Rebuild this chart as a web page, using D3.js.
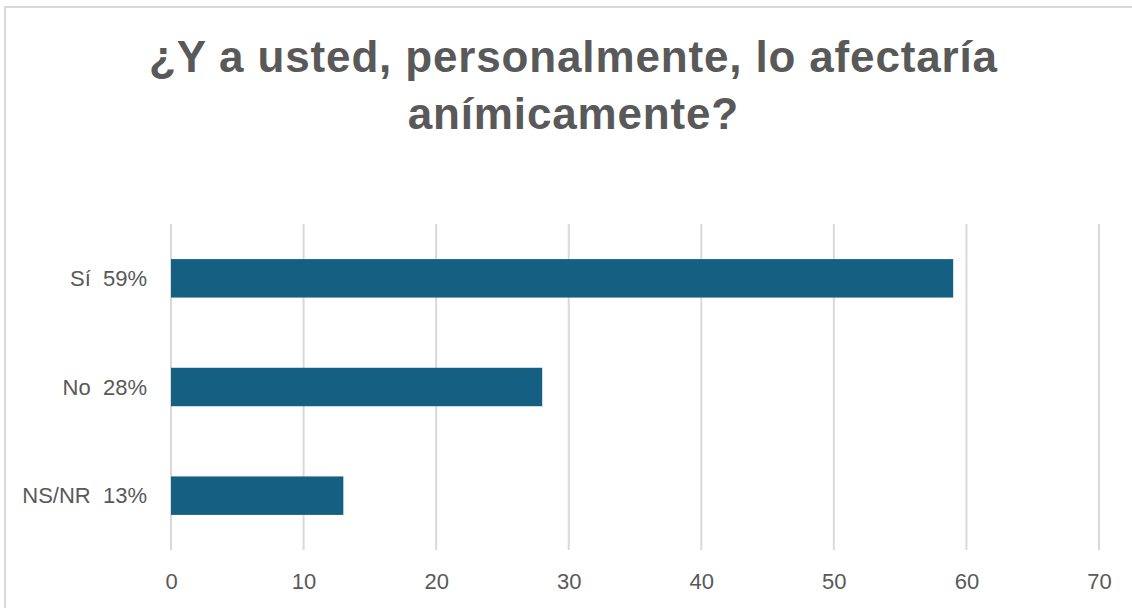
<!DOCTYPE html>
<html>
<head>
<meta charset="utf-8">
<script src="https://cdn.jsdelivr.net/npm/d3@7"></script>
<style>
  html, body { margin: 0; padding: 0; background: #fff; }
  svg { display: block; }
</style>
</head>
<body>
<svg id="chart" width="1132" height="608"></svg>
<script>
const categories = ["Sí 59%", "No 28%", "NS/NR 13%"];
const values = [59, 28, 13];
const xTicks = [0, 10, 20, 30, 40, 50, 60, 70];
const titleLines = ["¿Y a usted, personalmente, lo afectaría", "anímicamente?"];

const svg = d3.select("#chart");
const W = 1132, H = 608;
const margin = { top: 224, right: 33, bottom: 58, left: 171 };
const textColor = "#595959";
const font = "'Liberation Sans', Arial, sans-serif";

// chart border
svg.append("rect")
  .attr("x", 5).attr("y", 7)
  .attr("width", W + 20).attr("height", H + 20)
  .attr("fill", "#fff")
  .attr("stroke", "#d9d9d9").attr("stroke-width", 2);

// title
const title = svg.append("g");
const tBaselines = [72, 129];
const tSize = 44;
const t1 = title.append("text")
  .attr("font-family", font).attr("font-weight", "bold").attr("font-size", tSize)
  .text(titleLines[0]);
const natural = t1.node().getComputedTextLength();
t1.remove();
const ls = Math.max(0, (849 - natural) / titleLines[0].length);
titleLines.forEach((t, i) => {
  title.append("text")
    .attr("x", 573 + ls / 2).attr("y", tBaselines[i])
    .attr("text-anchor", "middle")
    .attr("font-family", font)
    .attr("font-weight", "bold")
    .attr("font-size", tSize)
    .attr("letter-spacing", ls)
    .attr("fill", textColor)
    .text(t);
});

const x = d3.scaleLinear().domain([0, 70]).range([margin.left, W - margin.right]);
const y = d3.scaleBand().domain(categories)
  .range([margin.top, H - margin.bottom])
  .paddingInner(0.646).paddingOuter(0.323);

// gridlines
svg.append("g")
  .selectAll("line")
  .data(xTicks)
  .join("line")
  .attr("x1", d => x(d)).attr("x2", d => x(d))
  .attr("y1", margin.top).attr("y2", H - margin.bottom)
  .attr("stroke", "#d9d9d9").attr("stroke-width", 2);

// x axis labels
const xAxis = d3.axisBottom(x).tickValues(xTicks).tickSize(0).tickPadding(0);
const xg = svg.append("g")
  .attr("transform", `translate(0,${H - margin.bottom})`)
  .call(xAxis);
xg.select(".domain").remove();
xg.selectAll("text")
  .attr("font-family", font).attr("font-size", 22)
  .attr("fill", textColor)
  .attr("dy", null).attr("y", 39);

// y axis labels
const yAxis = d3.axisLeft(y).tickSize(0).tickPadding(24);
const yg = svg.append("g")
  .attr("transform", `translate(${margin.left},0)`)
  .call(yAxis);
yg.select(".domain").remove();
yg.selectAll("text")
  .attr("font-family", font).attr("font-size", 22)
  .attr("fill", textColor)
  .attr("dy", "0.35em")
  .text(d => d.replace(" ", "\u00a0\u00a0"));

// bars
svg.append("g")
  .selectAll("rect")
  .data(values)
  .join("rect")
  .attr("x", x(0))
  .attr("y", (d, i) => y(categories[i]))
  .attr("width", d => x(d) - x(0))
  .attr("height", y.bandwidth())
  .attr("fill", "#156082");
</script>
</body>
</html>
